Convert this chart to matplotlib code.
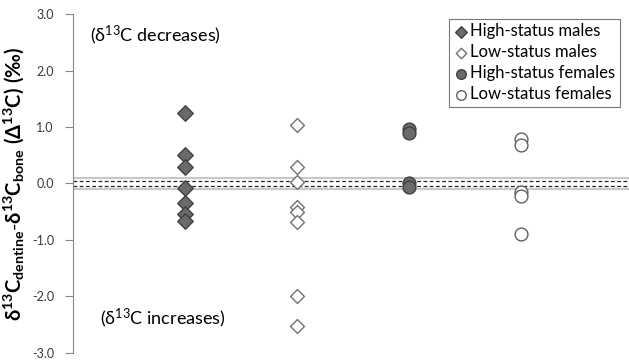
import matplotlib.pyplot as plt

plt.rcParams['font.family'] = ['Lato', 'DejaVu Sans']
plt.rcParams['mathtext.fontset'] = 'custom'
plt.rcParams['mathtext.rm'] = 'Lato'
plt.rcParams['mathtext.it'] = 'Lato'
plt.rcParams['mathtext.bf'] = 'Lato:bold'

# delta 13C offsets (dentine - bone) per group, in per mil
groups = ['High-status males', 'Low-status males',
          'High-status females', 'Low-status females']
high_males = [1.25, 0.50, 0.29, -0.08, -0.34, -0.54, -0.66]
low_males = [1.03, 0.30, 0.03, -0.42, -0.51, -0.68, -2.00, -2.52]
high_females = [0.96, 0.90, 0.00, -0.07]
low_females = [0.79, 0.68, -0.15, -0.22, -0.90]
yticks = [3.0, 2.0, 1.0, 0.0, -1.0, -2.0, -3.0]

fig = plt.figure(figsize=(6.29, 3.62), dpi=100)
ax = fig.add_axes([0.1166, 0.0257, 0.8834, 0.9348])

# analytical error bands around zero
ax.axhline(0.1, color='#c8c8c8', lw=1.6, zorder=1)
ax.axhline(-0.1, color='#c8c8c8', lw=1.6, zorder=1)
ax.axhline(0.05, color='#222222', lw=0.9, ls=(0, (3, 2)), zorder=1)
ax.axhline(-0.05, color='#222222', lw=0.9, ls=(0, (3, 2)), zorder=1)

styles = [
    dict(marker='D', s=62, facecolor='#6a6a6a', edgecolor='#404040'),
    dict(marker='D', s=50, facecolor='white', edgecolor='#707070'),
    dict(marker='o', s=85, facecolor='#6a6a6a', edgecolor='#404040'),
    dict(marker='o', s=85, facecolor='white', edgecolor='#606060'),
]
series = [high_males, low_males, high_females, low_females]
for i, (name, vals, st) in enumerate(zip(groups, series, styles)):
    ax.scatter([i + 1] * len(vals), vals, label=name, linewidths=1.0,
               zorder=3, **st)

ax.set_xlim(0, 4.96)
ax.set_ylim(-3.0, 3.0)
ax.set_yticks(yticks)
ax.set_yticklabels(['%.1f' % v for v in yticks], fontsize=9, color='#383838')
ax.set_xticks([])
ax.tick_params(axis='y', length=6, width=0.8, color='#888888', pad=8)
for side in ['top', 'right', 'bottom']:
    ax.spines[side].set_visible(False)
ax.spines['left'].set_color('#888888')
ax.spines['left'].set_linewidth(0.8)

ax.set_ylabel(r'$\mathbf{\delta^{13}C_{dentine}\text{-}\delta^{13}C_{bone}\ (\Delta^{13}C)\ (‰)}$',
              fontsize=14.5, labelpad=4)

ax.text(0.15, 2.63, '(δ$^{13}$C decreases)', fontsize=13, va='center')
ax.text(0.24, -2.39, '(δ$^{13}$C increases)', fontsize=13, va='center')

leg = ax.legend(loc='upper right', bbox_to_anchor=(0.992, 1.0), fontsize=12,
                frameon=True, fancybox=False, handletextpad=0.1,
                handlelength=0.9, borderpad=0.25, labelspacing=0.3,
                borderaxespad=0.3, markerscale=0.75)
leg.get_frame().set_edgecolor('#555555')
leg.get_frame().set_linewidth(0.8)

fig.savefig('out.png', dpi=100)
